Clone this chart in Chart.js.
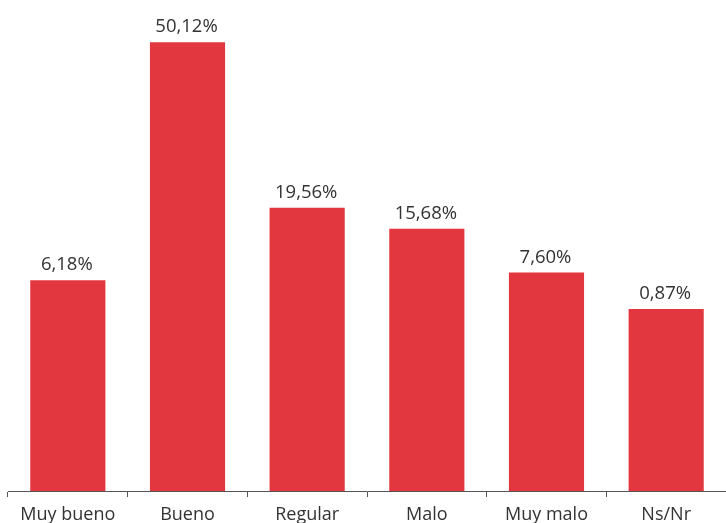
<!DOCTYPE html>
<html>
<head>
<meta charset="utf-8">
<script src="https://cdn.jsdelivr.net/npm/chart.js@4/dist/chart.umd.min.js"></script>
<style>
  html, body { margin: 0; padding: 0; background: #fff; }
  #wrap { width: 726px; height: 523px; }
</style>
</head>
<body>
<div id="wrap"><canvas id="chart"></canvas></div>
<script>
const categories = ["Muy bueno", "Bueno", "Regular", "Malo", "Muy malo", "Ns/Nr"];
const values = [6.18, 50.12, 19.56, 15.68, 7.60, 0.87];
const valueLabels = ["6,18%", "50,12%", "19,56%", "15,68%", "7,60%", "0,87%"];

// the original axis does not start at zero
const axisMin = -32.74;
const axisMax = 57.93;

const barColor = "#e3373f";
const textColor = "#333333";

// draws the percentage above each bar
const valueLabelPlugin = {
  id: "valueLabels",
  afterDatasetsDraw(chart) {
    const ctx = chart.ctx;
    const meta = chart.getDatasetMeta(0);
    ctx.save();
    ctx.font = "18.5px 'Open Sans'";
    ctx.fillStyle = textColor;
    ctx.textAlign = "center";
    ctx.textBaseline = "alphabetic";
    meta.data.forEach((bar, i) => {
      ctx.fillText(valueLabels[i], bar.x - 1, bar.y - 10);
    });
    ctx.restore();
  },
};

new Chart(document.getElementById("chart"), {
  type: "bar",
  data: {
    labels: categories,
    datasets: [
      {
        data: values,
        base: axisMin,
        backgroundColor: barColor,
        borderWidth: 0,
        barPercentage: 0.628,
        categoryPercentage: 1,
      },
    ],
  },
  options: {
    responsive: true,
    maintainAspectRatio: false,
    animation: false,
    layout: { padding: { left: 8, right: 0, top: 0, bottom: 0 } },
    plugins: {
      legend: { display: false },
      tooltip: { enabled: false },
    },
    scales: {
      x: {
        grid: {
          display: true,
          drawOnChartArea: false,
          offset: true,
          tickLength: 6,
          color: "#555555",
        },
        border: { display: true, color: "#555555", width: 1 },
        ticks: {
          color: textColor,
          font: { family: "'Open Sans'", size: 18 },
          padding: 7,
          maxRotation: 0,
          autoSkip: false,
        },
        afterFit(scale) {
          scale.height = 32;
        },
      },
      y: {
        display: false,
        min: axisMin,
        max: axisMax,
      },
    },
  },
  plugins: [valueLabelPlugin],
});
</script>
</body>
</html>
